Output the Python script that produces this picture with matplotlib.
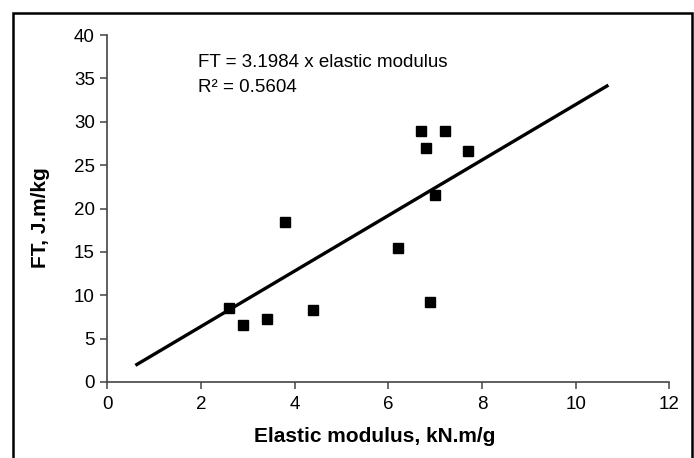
import matplotlib
matplotlib.use("Agg")
import matplotlib.pyplot as plt
from matplotlib.patches import Rectangle
import numpy as np

plt.rcParams['font.family'] = ['Liberation Sans', 'DejaVu Sans']

# Data
elastic_modulus = [2.6, 2.9, 3.4, 4.4, 3.8, 6.2, 6.9, 6.7, 7.2, 6.8, 7.7, 7.0]
ft_values = [8.5, 6.6, 7.3, 8.3, 18.5, 15.4, 9.2, 28.9, 28.9, 27.0, 26.6, 21.6]
slope = 3.1984
r_squared = 0.5604
trend_x = [0.6, 10.7]
x_ticks = [0, 2, 4, 6, 8, 10, 12]
y_ticks = [0, 5, 10, 15, 20, 25, 30, 35, 40]

W, H = 694, 458
fig = plt.figure(figsize=(W / 100, H / 100), dpi=100)
ax = fig.add_axes([107.3 / W, 1 - 382 / H, (669.3 - 107.3) / W, (382 - 35) / H])

ax.plot(elastic_modulus, ft_values, linestyle='none', marker='s', markersize=6.5,
        color='black')
tx = np.array(trend_x)
ax.plot(tx, slope * tx, color='black', linewidth=2.4, solid_capstyle='butt')

ax.set_xlim(0, 12)
ax.set_ylim(0, 40)
ax.set_xticks(x_ticks)
ax.set_yticks(y_ticks)
for s in ['top', 'right']:
    ax.spines[s].set_visible(False)
for s in ['left', 'bottom']:
    ax.spines[s].set_color('#444444')
    ax.spines[s].set_linewidth(1.2)
ax.tick_params(axis='both', direction='out', length=5, width=1.1, color='#444444',
               labelsize=13.5, labelcolor='black')
ax.tick_params(axis='x', pad=5)
ax.tick_params(axis='y', pad=4)

ax.text(198 / W, 1 - 67 / H, f"FT = {slope} x elastic modulus", transform=fig.transFigure,
        fontsize=13.5, ha='left', va='baseline')
ax.text(198 / W, 1 - 92 / H, f"R\u00b2 = {r_squared}", transform=fig.transFigure,
        fontsize=13.5, ha='left', va='baseline')

fig.text(375 / W, 1 - 437 / H, "Elastic modulus, kN.m/g", fontsize=15, fontweight='bold',
         ha='center', va='center')
fig.text(41 / W, 1 - 218 / H, "FT, J.m/kg", fontsize=15, fontweight='bold',
         ha='center', va='center', rotation=90)

# Outer border of the figure frame
fig.patches.append(Rectangle((13 / W, -0.05), (692 - 13) / W, 1.05 - 12.5 / H,
                             transform=fig.transFigure, fill=False, edgecolor='black',
                             linewidth=1.8, clip_on=False))

fig.savefig("out.png", dpi=100)
